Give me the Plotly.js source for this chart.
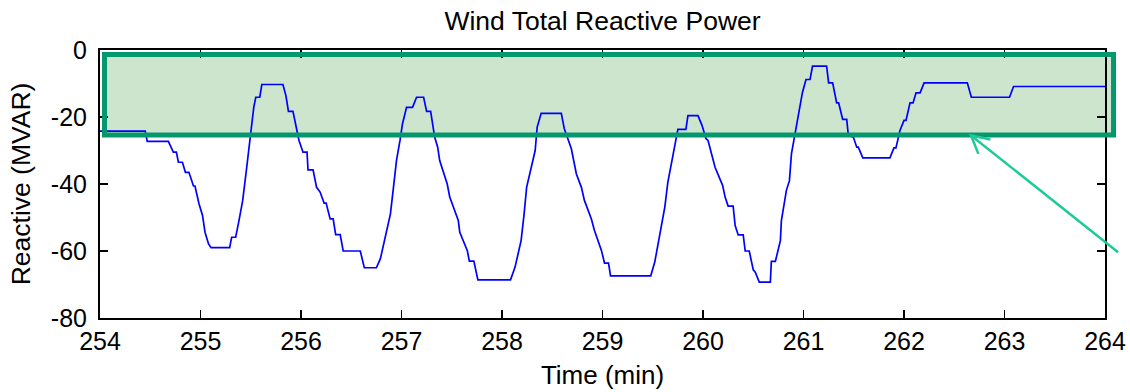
<!DOCTYPE html>
<html>
<head>
<meta charset="utf-8">
<script src="https://cdn.plot.ly/plotly-3.0.1.min.js"></script>
<style>html,body{margin:0;padding:0;background:#fff;}#chart{width:1130px;height:392px;}</style>
</head>
<body>
<div id="chart"></div>
<script>
// Time (min)
const timeMin = [254.00,254.45,254.47,254.68,254.73,254.76,254.78,254.82,254.85,254.885,254.93,254.945,254.985,255.02,255.045,255.08,255.105,255.29,255.31,255.35,255.38,255.42,255.46,255.49,255.51,255.53,255.55,255.59,255.61,255.82,255.85,255.875,255.92,255.96,255.98,256.02,256.06,256.07,256.12,256.155,256.19,256.23,256.25,256.29,256.32,256.345,256.39,256.42,256.59,256.63,256.75,256.79,256.84,256.89,256.92,256.95,256.985,257.01,257.05,257.11,257.15,257.22,257.25,257.29,257.33,257.36,257.38,257.455,257.48,257.565,257.58,257.655,257.675,257.72,257.76,258.085,258.13,258.19,258.22,258.245,258.33,258.35,258.39,258.59,258.62,258.69,258.74,258.79,258.82,258.89,258.92,258.99,259.02,259.06,259.08,259.48,259.52,259.57,259.62,259.65,259.68,259.73,259.75,259.83,259.85,259.95,259.99,260.03,260.05,260.12,260.195,260.22,260.25,260.30,260.32,260.35,260.40,260.42,260.46,260.50,260.52,260.56,260.67,260.68,260.72,260.77,260.78,260.83,260.86,260.88,260.92,260.96,260.99,261.025,261.065,261.09,261.23,261.25,261.29,261.33,261.35,261.39,261.43,261.446,261.496,261.53,261.545,261.59,261.86,261.90,261.92,261.96,262.00,262.02,262.06,262.09,262.12,262.16,262.20,262.63,262.67,263.05,263.09,264.00];
// Reactive power (MVAR)
const reactive = [-24.2,-24.2,-27.3,-27.3,-30.5,-30.5,-33.5,-33.5,-36.5,-36.5,-40.6,-40.6,-45.9,-49.4,-54.4,-57.9,-59.0,-59.0,-55.9,-55.9,-51.4,-44.9,-35.0,-27.0,-20.5,-17.1,-14.1,-14.1,-10.3,-10.3,-13.6,-18.3,-18.3,-24.0,-27.0,-30.5,-30.5,-35.8,-35.8,-41.0,-42.4,-45.7,-45.7,-50.4,-50.4,-55.1,-55.1,-60.0,-60.0,-65.0,-65.0,-62.3,-55.9,-48.9,-41.0,-33.0,-27.0,-22.0,-17.1,-17.1,-14.1,-14.1,-18.3,-18.3,-26.0,-29.0,-33.0,-40.0,-43.9,-50.9,-54.4,-59.9,-63.0,-63.0,-68.6,-68.6,-64.8,-56.9,-48.9,-41.0,-30.0,-23.0,-18.9,-18.9,-23.5,-29.5,-37.0,-41.0,-44.9,-50.5,-53.9,-59.9,-63.6,-63.6,-67.4,-67.4,-63.3,-54.9,-46.9,-39.5,-35.0,-27.0,-23.7,-23.7,-19.6,-19.6,-22.5,-26.5,-27.0,-35.0,-40.4,-43.9,-46.6,-46.6,-52.4,-55.2,-55.2,-60.0,-60.0,-65.6,-66.3,-69.3,-69.3,-63.1,-63.1,-56.9,-50.9,-41.9,-39.0,-31.0,-24.5,-18.6,-12.6,-8.8,-8.8,-4.8,-4.8,-9.8,-9.8,-15.8,-15.8,-20.7,-20.7,-25.5,-26.0,-29.0,-29.0,-32.2,-32.2,-29.2,-29.2,-24.0,-21.0,-21.0,-15.8,-15.8,-12.8,-12.8,-9.8,-9.8,-14.1,-14.1,-10.9,-10.9];

const xTickVals = [254,255,256,257,258,259,260,261,262,263,264];
const xTickText = ['254','255','256','257','258','259','260','261','262','263','264'];
const yTickVals = [0,-20,-40,-60,-80];
const yTickText = ['0','-20','-40','-60','-80'];

// Highlight box and arrow annotation (data units)
const boxX = [254.045, 264.085];
const boxY = [-25.4, -1.34];
const arrowTail = [264.13, -60.4];
const arrowTip = [262.667, -25.5];
const arrowWingA = [262.74, -31.0];
const arrowWingB = [262.86, -26.7];

const X0 = 254, X1 = 264, Y0 = -80, Y1 = 0;
const px = x => (x - X0) / (X1 - X0);
const py = y => (y - Y0) / (Y1 - Y0);

const FONT = '"Liberation Sans", Arial, sans-serif';

const trace = {
  x: timeMin, y: reactive, type: 'scatter', mode: 'lines',
  line: {color: '#0000ff', width: 1.7},
  hoverinfo: 'skip'
};

const shapes = [
  {type: 'rect', xref: 'paper', yref: 'paper', layer: 'below',
   x0: px(boxX[0]), x1: px(boxX[1]), y0: py(boxY[0]), y1: py(boxY[1]),
   fillcolor: '#cde5cd', line: {width: 0}},
  {type: 'rect', xref: 'paper', yref: 'paper', layer: 'above',
   x0: px(boxX[0]), x1: px(boxX[1]), y0: py(boxY[0]), y1: py(boxY[1]),
   fillcolor: 'rgba(0,0,0,0)', line: {color: '#05986f', width: 5}},
  {type: 'line', xref: 'paper', yref: 'paper', layer: 'above',
   x0: px(arrowTail[0]), y0: py(arrowTail[1]), x1: px(arrowTip[0]), y1: py(arrowTip[1]),
   line: {color: '#1ccb98', width: 2.5}},
  {type: 'path', xref: 'paper', yref: 'paper', layer: 'above',
   path: 'M' + px(arrowWingA[0]) + ',' + py(arrowWingA[1]) + ' L' + px(arrowTip[0]) + ',' + py(arrowTip[1]) + ' L' + px(arrowWingB[0]) + ',' + py(arrowWingB[1]),
   line: {color: '#1ccb98', width: 2.5}}
];

const axisCommon = {
  showline: true, linecolor: '#000', linewidth: 2, mirror: 'ticks',
  ticks: 'inside', ticklen: 8, tickwidth: 1.5, tickcolor: '#000',
  showgrid: false, zeroline: false,
  tickfont: {family: FONT, size: 25, color: '#000'}
};

const layout = {
  width: 1130, height: 392,
  margin: {l: 100, r: 25, t: 50, b: 74},
  paper_bgcolor: '#fff', plot_bgcolor: '#fff',
  showlegend: false,
  font: {family: FONT, color: '#000'},
  title: {text: 'Wind Total Reactive Power', font: {family: FONT, size: 26.5, color: '#000'},
          x: 0.5, xref: 'paper', y: 1 - 21/392, yref: 'container', yanchor: 'middle'},
  xaxis: Object.assign({}, axisCommon, {
    range: [X0, X1], tickmode: 'array', tickvals: xTickVals, ticktext: xTickText,
    ticklabelstandoff: 0,
    title: {text: 'Time (min)', font: {family: FONT, size: 26, color: '#000'}, standoff: 12}
  }),
  yaxis: Object.assign({}, axisCommon, {
    range: [Y0, Y1], tickmode: 'array', tickvals: yTickVals, ticktext: yTickText,
    ticklabelstandoff: 6,
    title: {text: 'Reactive (MVAR)', font: {family: FONT, size: 26.5, color: '#000'}, standoff: 13}
  }),
  shapes: shapes
};

Plotly.newPlot('chart', [trace], layout, {staticPlot: true, displayModeBar: false});
</script>
</body>
</html>
